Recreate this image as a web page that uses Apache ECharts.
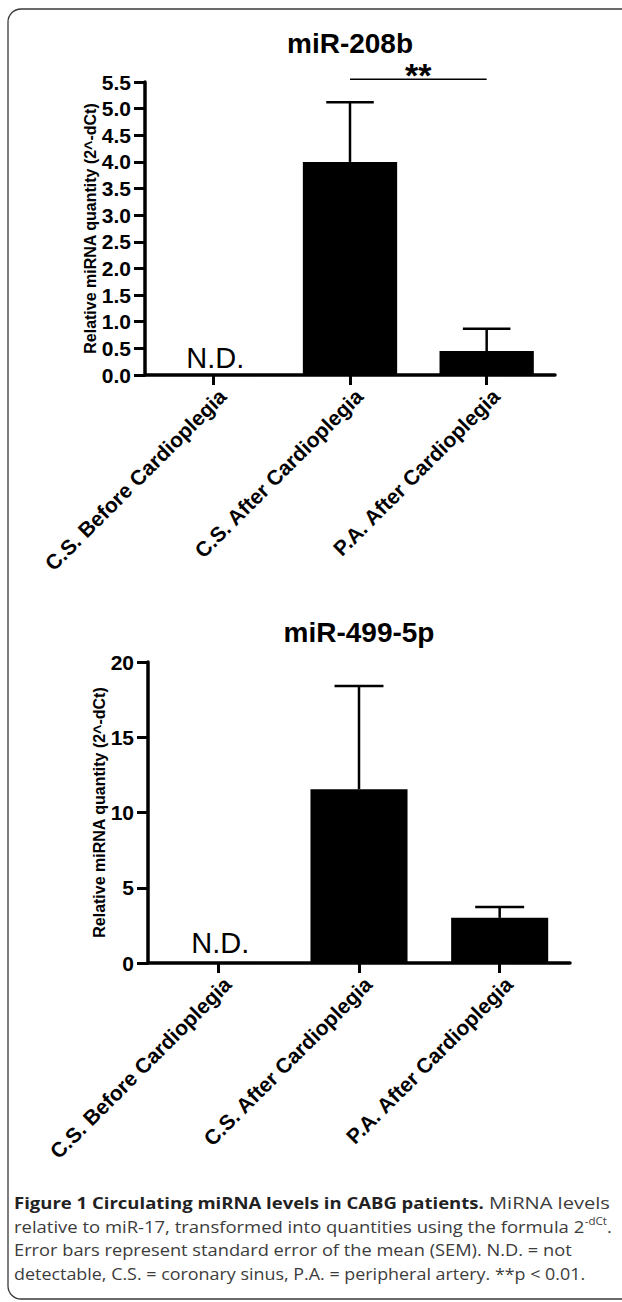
<!DOCTYPE html>
<html><head><meta charset="utf-8">
<script src="https://cdn.jsdelivr.net/npm/echarts@6/dist/echarts.min.js"></script>
<style>html,body{margin:0;padding:0;background:#fff}#c{width:622px;height:1302px}</style>
</head><body><div id="c"></div>
<script>
// ---------------- data ----------------
const categories = ['C.S. Before Cardioplegia', 'C.S. After Cardioplegia', 'P.A. After Cardioplegia'];
const panelTitles = ['miR-208b', 'miR-499-5p'];
const yAxisTitle = 'Relative miRNA quantity (2^-dCt)';
const mir208bMean = [null, 4.0, 0.45];
const mir208bSem  = [null, 1.12, 0.42];
const mir499Mean  = [null, 11.55, 3.0];
const mir499Sem   = [null, 6.85, 0.72];
const notDetected = ['N.D.', null, null];
const mir208bAxis = [0, 5.5, 0.5];   // min, max, interval
const mir499Axis  = [0, 20, 5];
const sigPair  = [1, 2];
const sigLevel = 5.55;
const sigText  = '**';
const captionBold = 'Figure 1 Circulating miRNA levels in CABG patients.';
const captionLines = [
  'MiRNA levels',
  'relative to miR-17, transformed into quantities using the formula 2',
  'Error bars represent standard error of the mean (SEM). N.D. = not',
  'detectable, C.S. = coronary sinus, P.A. = peripheral artery. **p < 0.01.'
];
const captionSup = '-dCt';

// ---------------- layout ----------------
const FF = '"Liberation Sans", Arial, Helvetica, sans-serif';
const CF = '"Open Sans", "Noto Sans", sans-serif';
const W = 622, H = 1302;
const grids = [
  {left: 145, right: 67, top: 82, bottom: 927},
  {left: 148, right: 52, top: 662, bottom: 339}
];
const nameGaps = [47, 41];

const chart = echarts.init(document.getElementById('c'), null, {renderer: 'svg', width: W, height: H});

function xAxisCfg(gi) {
  return {
    type: 'category', gridIndex: gi, data: categories,
    axisLine: {show: true, lineStyle: {color: '#000', width: 3.5}},
    axisTick: {show: true, alignWithLabel: true, length: 10, lineStyle: {color: '#000', width: 3}},
    axisLabel: {interval: 0, rotate: 45, margin: 27, padding: [0, -13, 0, 0], color: '#000', fontSize: 21, fontWeight: 'bold', fontFamily: FF},
    splitLine: {show: false}
  };
}
function yAxisCfg(gi, ax, fmt) {
  return {
    type: 'value', gridIndex: gi, min: ax[0], max: ax[1], interval: ax[2],
    name: yAxisTitle, nameLocation: 'middle', nameRotate: 90, nameGap: nameGaps[gi], nameMoveOverlap: false,
    nameTextStyle: {color: '#000', fontSize: 16, fontWeight: 'bold', fontFamily: FF},
    axisLine: {show: true, lineStyle: {color: '#000', width: 3.5}},
    axisTick: {show: true, length: 11, lineStyle: {color: '#000', width: 3}},
    axisLabel: {margin: 14, color: '#000', fontSize: 21, fontWeight: 'bold', fontFamily: FF, formatter: fmt},
    splitLine: {show: false}
  };
}

function barSeries(gi, mean) {
  return {
    type: 'bar', xAxisIndex: gi, yAxisIndex: gi, barWidth: '69%',
    data: mean.map(v => v == null ? '-' : v),
    itemStyle: {color: '#000'}, silent: true
  };
}
function errData(mean, sem) {
  const out = [];
  mean.forEach((m, i) => { if (m != null) out.push([i, m, sem[i]]); });
  return out;
}
function errRender(params, api) {
  const i = api.value(0), m = api.value(1), s = api.value(2);
  const b = api.coord([i, m]), t = api.coord([i, m + s]);
  const half = api.size([1, 0])[0] * 0.174;
  const st = {stroke: '#000', lineWidth: 2.5};
  return {type: 'group', children: [
    {type: 'line', shape: {x1: b[0], y1: b[1], x2: t[0], y2: t[1]}, style: st},
    {type: 'line', shape: {x1: t[0] - half, y1: t[1], x2: t[0] + half, y2: t[1]}, style: st}
  ]};
}
function errSeries(gi, mean, sem) {
  return {type: 'custom', xAxisIndex: gi, yAxisIndex: gi, data: errData(mean, sem), renderItem: errRender, z: 5, silent: true};
}
function ndSeries(gi, dy) {
  const d = [];
  notDetected.forEach((t, i) => { if (t) d.push([i, 0]); });
  return {
    type: 'custom', xAxisIndex: gi, yAxisIndex: gi, data: d, silent: true,
    renderItem: (params, api) => {
      const idx = api.value(0);
      const p = api.coord([idx, 0]);
      return {type: 'text', x: p[0] + 2, y: p[1] - dy,
        style: {text: notDetected[idx], fontSize: 29, fontFamily: FF, fill: '#000', align: 'center', verticalAlign: 'middle'}};
    }
  };
}
function sigSeries(gi) {
  return {
    type: 'custom', xAxisIndex: gi, yAxisIndex: gi, data: [[sigPair[0], sigLevel]], silent: true, clip: false,
    renderItem: (params, api) => {
      const a = api.coord([sigPair[0], sigLevel]);
      const b = api.coord([sigPair[1], sigLevel]);
      return {type: 'group', children: [
        {type: 'line', shape: {x1: a[0], y1: a[1], x2: b[0], y2: a[1]}, style: {stroke: '#000', lineWidth: 1.5}},
        {type: 'text', x: (a[0] + b[0]) / 2, y: a[1] - 4,
          style: {text: sigText, fontSize: 34, fontWeight: 'bold', fontFamily: FF, fill: '#000', align: 'center', verticalAlign: 'middle'}}
      ]};
    }
  };
}

// caption: fit each line to its width in the reference
const ctx = document.createElement('canvas').getContext('2d');
function tw(txt, bold, size) {
  ctx.font = (bold ? 'bold ' : '') + size + 'px "Open Sans"';
  return ctx.measureText(txt).width;
}
const CX = 14, CS = 16;
const capY = [1203, 1226.5, 1250, 1273.5];
const boldEnd = 484, line1End = 610;
const capGraphics = [];
capGraphics.push({type: 'text', x: CX, y: capY[0], scaleX: (boldEnd - CX) / tw(captionBold, true, CS),
  style: {text: captionBold, fontFamily: CF, fontSize: CS, fontWeight: 'bold', fill: '#222', align: 'left', verticalAlign: 'middle'}});
capGraphics.push({type: 'text', x: boldEnd + 5, y: capY[0], scaleX: (line1End - boldEnd - 5) / tw(captionLines[0], false, CS),
  style: {text: captionLines[0], fontFamily: CF, fontSize: CS, fill: '#3c3c3c', align: 'left', verticalAlign: 'middle'}});
const w2 = tw(captionLines[1], false, CS) + tw(captionSup, false, 10) + tw('.', false, CS);
capGraphics.push({type: 'text', x: CX, y: capY[1], scaleX: (612 - CX) / w2,
  style: {text: '{n|' + captionLines[1] + '}{s|' + captionSup + '}{n|.}', align: 'left', verticalAlign: 'middle',
    rich: {
      n: {fontFamily: CF, fontSize: CS, fill: '#3c3c3c', lineHeight: 22},
      s: {fontFamily: CF, fontSize: 10, fill: '#3c3c3c', lineHeight: 12, verticalAlign: 'top'}
    }}});
capGraphics.push({type: 'text', x: CX, y: capY[2], scaleX: (572 - CX) / tw(captionLines[2], false, CS),
  style: {text: captionLines[2], fontFamily: CF, fontSize: CS, fill: '#3c3c3c', align: 'left', verticalAlign: 'middle'}});
capGraphics.push({type: 'text', x: CX, y: capY[3], scaleX: (586 - CX) / tw(captionLines[3], false, CS),
  style: {text: captionLines[3], fontFamily: CF, fontSize: CS, fill: '#3c3c3c', align: 'left', verticalAlign: 'middle'}});

const titleX = g => (g.left + (W - g.right)) / 2;

chart.setOption({
  animation: false,
  backgroundColor: '#fff',
  grid: grids.map(g => Object.assign({containLabel: false, outerBoundsMode: 'none'}, g)),
  xAxis: [xAxisCfg(0), xAxisCfg(1)],
  yAxis: [yAxisCfg(0, mir208bAxis, v => v.toFixed(1)), yAxisCfg(1, mir499Axis, v => String(v))],
  series: [
    barSeries(0, mir208bMean), errSeries(0, mir208bMean, mir208bSem), ndSeries(0, 17), sigSeries(0),
    barSeries(1, mir499Mean), errSeries(1, mir499Mean, mir499Sem), ndSeries(1, 20)
  ],
  graphic: [
    {type: 'rect', x: 8, y: 9, shape: {x: 0, y: 0, width: 700, height: 1290, r: 13},
      style: {fill: 'none', stroke: '#3a3a3a', lineWidth: 1.3}, silent: true},
    {type: 'text', x: titleX(grids[0]), y: 43,
      style: {text: panelTitles[0], fontSize: 28, fontWeight: 'bold', fontFamily: FF, fill: '#000', align: 'center', verticalAlign: 'middle'}},
    {type: 'text', x: titleX(grids[1]), y: 632,
      style: {text: panelTitles[1], fontSize: 28, fontWeight: 'bold', fontFamily: FF, fill: '#000', align: 'center', verticalAlign: 'middle'}}
  ].concat(capGraphics)
});
</script></body></html>
